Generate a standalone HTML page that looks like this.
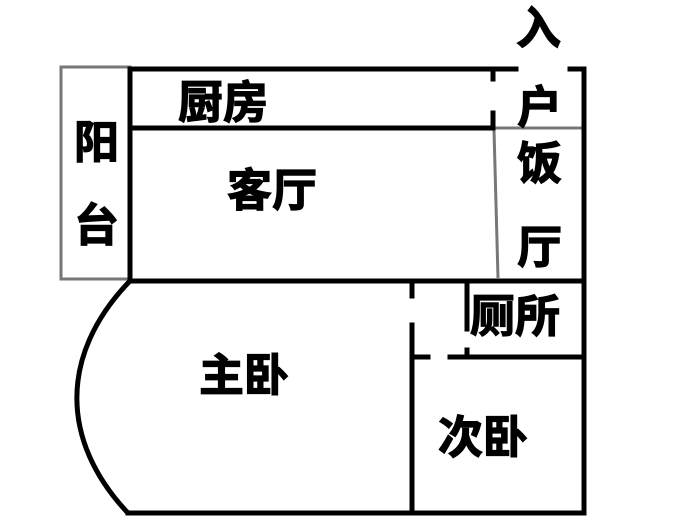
<!DOCTYPE html>
<html><head><meta charset="utf-8"><style>
body{margin:0;background:#fff;width:691px;height:523px;overflow:hidden}
svg text{font-family:"Liberation Sans","Noto Sans CJK SC",sans-serif;font-weight:bold;font-size:45px;fill:#000;stroke:#000;stroke-width:1.2px}
</style></head><body>
<svg width="691" height="523" viewBox="0 0 691 523" xmlns="http://www.w3.org/2000/svg">
<g stroke="#777" stroke-width="3" fill="none">
<rect x="61" y="67" width="69" height="212"/>
<line x1="495" y1="128" x2="584" y2="128"/>
<line x1="494" y1="130" x2="498" y2="278"/>
</g>
<g stroke="#000" stroke-width="5" fill="none" stroke-linecap="square">
<line x1="130" y1="69" x2="516" y2="69"/>
<line x1="570" y1="69" x2="584" y2="69"/>
<line x1="584" y1="69" x2="584" y2="513"/>
<line x1="130" y1="69" x2="130" y2="280"/>
<line x1="132" y1="128" x2="492" y2="128"/>
<line x1="493" y1="69" x2="493" y2="79"/>
<line x1="493" y1="113" x2="493" y2="128"/>
<line x1="130" y1="281" x2="584" y2="281"/>
<line x1="412" y1="281" x2="412" y2="296"/>
<line x1="412" y1="325" x2="412" y2="513"/>
<line x1="467" y1="283" x2="467" y2="329"/>
<line x1="467" y1="350" x2="467" y2="357"/>
<line x1="412" y1="357" x2="428" y2="357"/>
<line x1="450" y1="357" x2="584" y2="357"/>
<line x1="128" y1="513" x2="584" y2="513"/>
<path d="M128,283 C60,355 60,440 127,512"/>
</g>
<text x="516" y="44">入</text>
<text x="178" y="118">厨房</text>
<text x="74" y="158">阳</text>
<text x="74" y="241">台</text>
<text x="227" y="206">客厅</text>
<text x="517" y="123">户</text>
<text x="517" y="179">饭</text>
<text x="517" y="263">厅</text>
<text x="470" y="332">厕所</text>
<text x="199" y="391">主卧</text>
<text x="438" y="453">次卧</text>
</svg>
</body></html>
